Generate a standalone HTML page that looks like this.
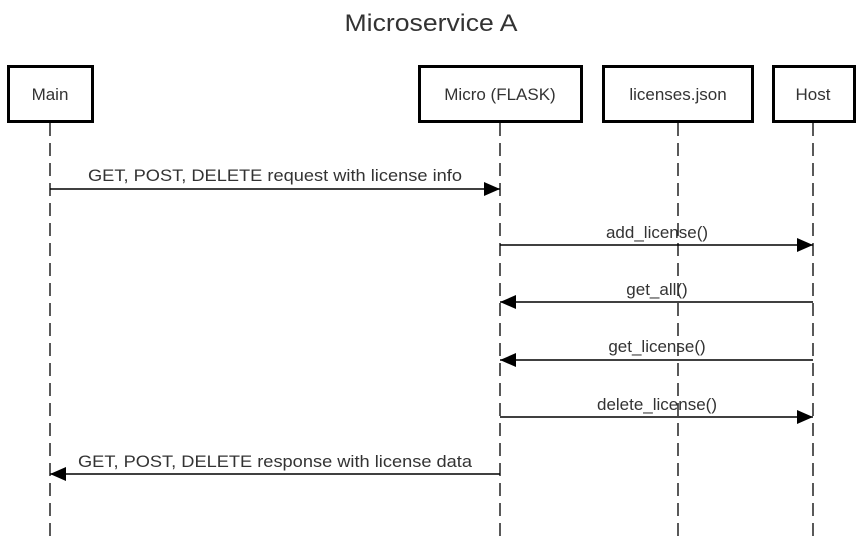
<!DOCTYPE html>
<html><head><meta charset="utf-8"><style>
html,body{margin:0;padding:0;background:#fff;}
svg{display:block;}
text{font-family:"Liberation Sans",Arial,sans-serif;fill:#333;}
</style></head><body>
<svg width="862" height="542" viewBox="0 0 862 542" xmlns="http://www.w3.org/2000/svg">
<defs><marker id="a" markerWidth="16" markerHeight="14" refX="16" refY="7" orient="auto" markerUnits="userSpaceOnUse"><path d="M0,0 L16,7 L0,14 Z" fill="#000"/></marker></defs>
<text x="431" y="31" font-size="24" text-anchor="middle" fill="#222" textLength="173" lengthAdjust="spacingAndGlyphs">Microservice A</text>
<g stroke="#222" stroke-width="1.5" stroke-dasharray="13,7" fill="none">
<line x1="50" y1="123" x2="50" y2="542"/>
<line x1="500" y1="123" x2="500" y2="542"/>
<line x1="678" y1="123" x2="678" y2="542"/>
<line x1="813" y1="123" x2="813" y2="542"/>
</g>
<g stroke="#000" stroke-width="3" fill="#fff">
<rect x="8.5" y="66.5" width="84" height="55"/>
<rect x="419.5" y="66.5" width="162" height="55"/>
<rect x="603.5" y="66.5" width="149" height="55"/>
<rect x="773.5" y="66.5" width="81" height="55"/>
</g>
<g font-size="17" text-anchor="middle">
<text x="50" y="100">Main</text>
<text x="500" y="100">Micro (FLASK)</text>
<text x="678" y="100">licenses.json</text>
<text x="813" y="100">Host</text>
</g>
<g stroke="#000" stroke-width="1.5" marker-end="url(#a)">
<line x1="50" y1="189" x2="500" y2="189"/>
<line x1="500" y1="245" x2="813" y2="245"/>
<line x1="813" y1="302" x2="500" y2="302"/>
<line x1="813" y1="360" x2="500" y2="360"/>
<line x1="500" y1="417" x2="813" y2="417"/>
<line x1="500" y1="474" x2="50" y2="474"/>
</g>
<g font-size="17" text-anchor="middle">
<text x="275" y="181" textLength="374" lengthAdjust="spacingAndGlyphs">GET, POST, DELETE request with license info</text>
<text x="657" y="238">add_license()</text>
<text x="657" y="295">get_all()</text>
<text x="657" y="352">get_license()</text>
<text x="657" y="410">delete_license()</text>
<text x="275" y="467" textLength="394" lengthAdjust="spacingAndGlyphs">GET, POST, DELETE response with license data</text>
</g>
</svg>
</body></html>
